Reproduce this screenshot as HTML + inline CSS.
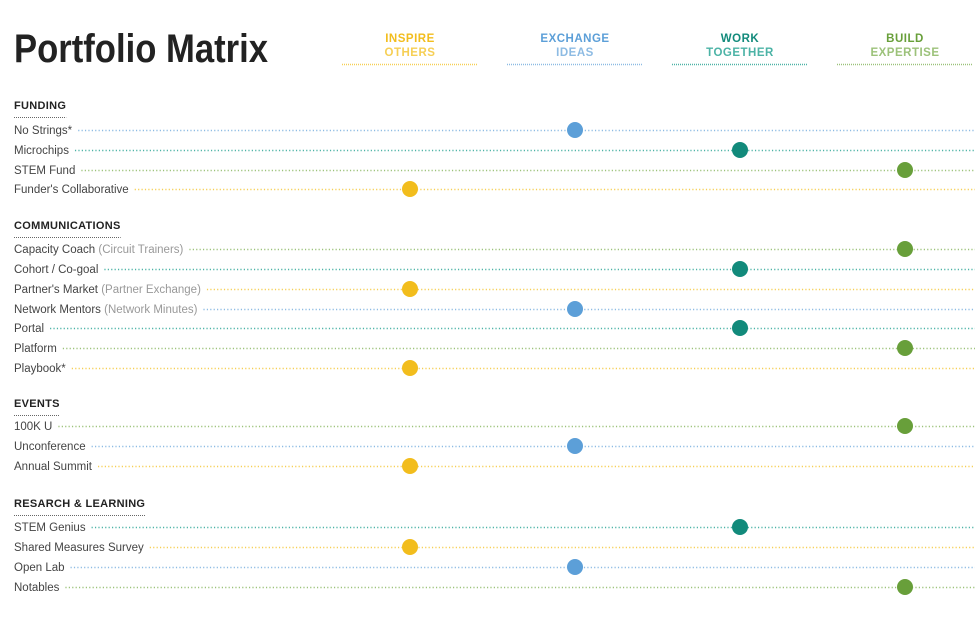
<!DOCTYPE html>
<html><head><meta charset="utf-8">
<style>
body{margin:0;background:#fff;}
svg{display:block;font-family:"Liberation Sans",sans-serif;}
</style></head>
<body>
<svg id="chart" width="980" height="620">
  <text x="14" y="62" font-size="40" font-weight="bold" fill="#222" textLength="254" lengthAdjust="spacingAndGlyphs">Portfolio Matrix</text>
  <g id="headers"></g>
  <g id="rows"></g>
</svg>
<script>
const columnsTop = ["INSPIRE","EXCHANGE","WORK","BUILD"];
const columnsBottom = ["OTHERS","IDEAS","TOGETHER","EXPERTISE"];
const sections = ["FUNDING","COMMUNICATIONS","EVENTS","RESARCH & LEARNING"];
const itemNames = ["No Strings*","Microchips","STEM Fund","Funder's Collaborative",
 "Capacity Coach","Cohort / Co-goal","Partner's Market","Network Mentors","Portal","Platform","Playbook*",
 "100K U","Unconference","Annual Summit",
 "STEM Genius","Shared Measures Survey","Open Lab","Notables"];
const itemNotes = ["","","","","(Circuit Trainers)","","(Partner Exchange)","(Network Minutes)","","","","","","","","","",""];
const itemSection = [0,0,0,0,1,1,1,1,1,1,1,2,2,2,3,3,3,3];
const itemColumn = [1,2,3,0, 3,2,0,1,2,3,0, 3,1,0, 2,0,1,3];

const dark = ["#f2bd1d","#5c9fd8","#128a7b","#689f3a"];
const light = ["#f6cf55","#8dbbe3","#4cb3a6","#9cc27a"];
const NS="http://www.w3.org/2000/svg";
const colX = c => 410 + c*165;
const sectionY = [105,225,403,503];
const rowY = [130,150,170,189,249,269,289,309,328,348,368,426,446,466,527,547,567,587];
function el(tag, attrs, parent){const e=document.createElementNS(NS,tag);for(const k in attrs)e.setAttribute(k,attrs[k]);parent.appendChild(e);return e;}
const hg=document.getElementById('headers'), rg=document.getElementById('rows');

columnsTop.forEach((t,c)=>{
  const g=el('g',{},hg);
  
  
  const a=el('text',{x:colX(c),y:42,'text-anchor':'middle','font-size':11.5,'font-weight':'bold',fill:dark[c],'letter-spacing':'0.5'},g);a.textContent=t;
  const b=el('text',{x:colX(c),y:56,'text-anchor':'middle','font-size':11.5,'font-weight':'bold',fill:light[c],'letter-spacing':'0.5'},g);b.textContent=columnsBottom[c];
  const l=el('line',{x1:colX(c)-68,x2:colX(c)+68,y1:64.5,y2:64.5,stroke:light[c],'stroke-width':1.5,'stroke-dasharray':'1 1'},g);
  
  
});

sections.forEach((s,i)=>{
  const t=el('text',{x:14,y:sectionY[i]+4,'font-size':11,'font-weight':'bold',fill:'#222','letter-spacing':'0.3'},rg);
  t.textContent=s;
  
  
  const w=t.getComputedTextLength();
  el('line',{x1:14,x2:14+w,y1:sectionY[i]+12.5,y2:sectionY[i]+12.5,stroke:'#666','stroke-width':1,'stroke-dasharray':'1 1'},rg);
});

itemNames.forEach((n,i)=>{
  const y=rowY[i], c=itemColumn[i];
  const t=el('text',{x:14,y:y+4,'font-size':11.5,fill:'#444'},rg);
  
  
  t.appendChild(document.createTextNode(n));
  if(itemNotes[i]){const sp=el('tspan',{fill:'#999'},t);sp.textContent=' '+itemNotes[i];}
  const w=t.getComputedTextLength();
  const l=el('line',{x1:14+w+6,x2:975,y1:y+0.5,y2:y+0.5,stroke:light[c],'stroke-width':1.5,'stroke-dasharray':'1.2 2.2'},rg);
  
  
  const d=el('circle',{cx:colX(c),cy:y,r:8,fill:dark[c]},rg);
  
  
});
</script>
</body></html>
